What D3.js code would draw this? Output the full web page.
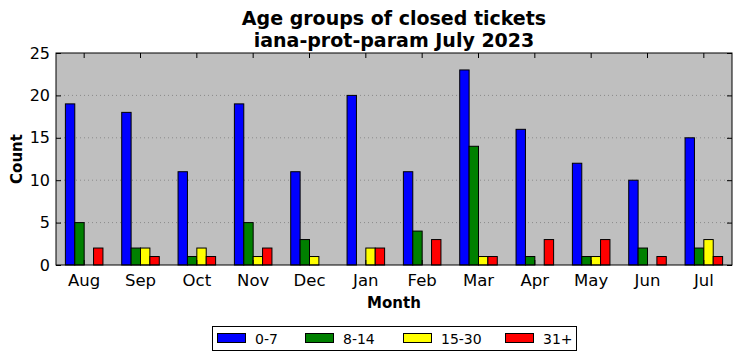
<!DOCTYPE html>
<html>
<head>
<meta charset="utf-8">
<script src="https://cdn.jsdelivr.net/npm/d3@7"></script>
<style>
  html, body { margin: 0; padding: 0; background: #fff; }
  svg { display: block; font-family: "DejaVu Sans", sans-serif; }
</style>
</head>
<body>
<svg id="chart" width="742" height="361"></svg>
<script>
const months = ["Aug","Sep","Oct","Nov","Dec","Jan","Feb","Mar","Apr","May","Jun","Jul"];
const seriesNames = ["0-7","8-14","15-30","31+"];
const seriesColors = ["#0000ff","#008000","#ffff00","#ff0000"];
const s0_7   = [19,18,11,19,11,20,11,23,16,12,10,15];
const s8_14  = [5,2,1,5,3,0,4,14,1,1,2,2];
const s15_30 = [0,2,2,1,1,2,0,1,0,1,0,3];
const s31    = [2,1,1,2,0,2,3,1,3,3,1,1];
const yTicks = [0,5,10,15,20,25];

const series = [s0_7, s8_14, s15_30, s31];

const svg = d3.select("#chart");
const L = 56, R = 732, T = 53, B = 265;

const x = d3.scaleBand().domain(months).range([L, R]).paddingInner(0).paddingOuter(0);
const inner = d3.scaleBand().domain(d3.range(4)).range([x.bandwidth()/6, x.bandwidth()*5/6]);
const y = d3.scaleLinear().domain([0,25]).range([B, T]);

// background
svg.append("rect").attr("x", L).attr("y", T).attr("width", R-L).attr("height", B-T).attr("fill", "#bfbfbf");

// grid
svg.append("g").selectAll("line").data(yTicks.filter(d => d > 0 && d < 25)).join("line")
  .attr("x1", L).attr("x2", R).attr("y1", d => y(d)).attr("y2", d => y(d))
  .attr("stroke", "#8a8a8a").attr("stroke-width", 1).attr("stroke-dasharray", "1,3");

// bars
series.forEach((vals, si) => {
  svg.append("g").selectAll("rect").data(vals.map((v,i)=>({m: months[i], v}))).join("rect")
    .filter(d => d.v > 0)
    .attr("x", d => x(d.m) + inner(si))
    .attr("y", d => y(d.v))
    .attr("width", inner.bandwidth())
    .attr("height", d => y(0) - y(d.v))
    .attr("fill", seriesColors[si])
    .attr("stroke", "#000").attr("stroke-width", 1);
});

// axes with inward ticks
const xAxisB = d3.axisBottom(x).tickSizeInner(-5).tickSizeOuter(0).tickPadding(9);
const gx = svg.append("g").attr("transform", `translate(0,${B})`).call(xAxisB);
gx.select(".domain").remove();
gx.selectAll("text").attr("font-size", 16.5).attr("fill", "#000").attr("font-family", "DejaVu Sans");

const xAxisT = d3.axisTop(x).tickSizeInner(-5).tickSizeOuter(0).tickFormat("");
const gxt = svg.append("g").attr("transform", `translate(0,${T})`).call(xAxisT);
gxt.select(".domain").remove();

const yAxisL = d3.axisLeft(y).tickValues(yTicks).tickSizeInner(-5).tickSizeOuter(0).tickPadding(6);
const gy = svg.append("g").attr("transform", `translate(${L},0)`).call(yAxisL);
gy.select(".domain").remove();
gy.selectAll("text").attr("font-size", 16).attr("fill", "#000").attr("font-family", "DejaVu Sans");

const yAxisR = d3.axisRight(y).tickValues(yTicks).tickSizeInner(-5).tickSizeOuter(0).tickFormat("");
const gyr = svg.append("g").attr("transform", `translate(${R},0)`).call(yAxisR);
gyr.select(".domain").remove();

// frame
svg.append("rect").attr("x", L).attr("y", T).attr("width", R-L).attr("height", B-T)
  .attr("fill", "none").attr("stroke", "#000").attr("stroke-width", 1);

// title
const cx = (L + R) / 2;
svg.append("text").attr("x", cx).attr("y", 25).attr("text-anchor", "middle")
  .attr("font-size", 19).attr("font-weight", "bold").text("Age groups of closed tickets");
svg.append("text").attr("x", cx).attr("y", 47).attr("text-anchor", "middle")
  .attr("font-size", 19).attr("font-weight", "bold").text("iana-prot-param July 2023");

// axis labels
svg.append("text").attr("x", cx).attr("y", 308).attr("text-anchor", "middle")
  .attr("font-size", 15).attr("font-weight", "bold").text("Month");
svg.append("text").attr("transform", `translate(22,${(T+B)/2}) rotate(-90)`).attr("text-anchor", "middle")
  .attr("font-size", 15).attr("font-weight", "bold").text("Count");

// legend
const lg = svg.append("g");
lg.append("rect").attr("x", 212.5).attr("y", 326.5).attr("width", 364).attr("height", 24)
  .attr("fill", "#fff").attr("stroke", "#000").attr("stroke-width", 1);
const legX = [217, 305, 403, 505];
seriesNames.forEach((n, i) => {
  lg.append("rect").attr("x", legX[i] + 0.5).attr("y", 333.5).attr("width", 28).attr("height", 9)
    .attr("fill", seriesColors[i]).attr("stroke", "#000").attr("stroke-width", 1);
  lg.append("text").attr("x", legX[i] + 38).attr("y", 343.5).attr("font-size", 14).text(n);
});
</script>
</body>
</html>
